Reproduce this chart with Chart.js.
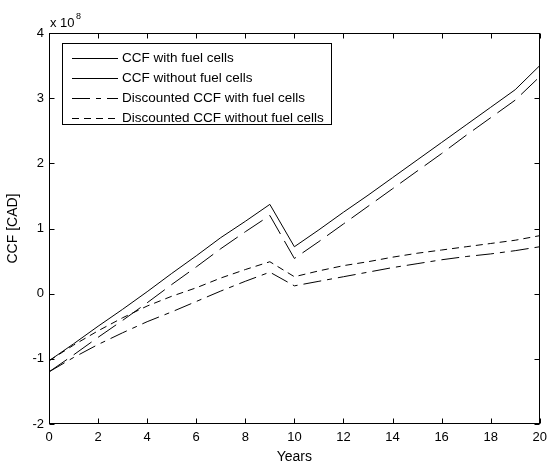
<!DOCTYPE html>
<html>
<head>
<meta charset="utf-8">
<script src="https://cdn.jsdelivr.net/npm/chart.js@4/dist/chart.umd.min.js"></script>
<style>
  html, body { margin: 0; padding: 0; background: #fff; }
  #wrap { width: 553px; height: 466px; }
</style>
</head>
<body>
<div id="wrap"><canvas id="c" width="553" height="466"></canvas></div>
<script>
// ---- data (values in units of 1e8 CAD) ----
const years = [0,1,2,3,4,5,6,7,8,9,10,11,12,13,14,15,16,17,18,19,20];
const ccfWith        = [-1.03,-0.77,-0.50,-0.24,0.03,0.31,0.58,0.86,1.11,1.37,0.72,0.98,1.25,1.51,1.78,2.05,2.32,2.59,2.86,3.13,3.50];
const ccfWithout     = [-1.20,-0.94,-0.67,-0.41,-0.14,0.14,0.41,0.69,0.95,1.20,0.54,0.80,1.07,1.34,1.61,1.88,2.15,2.43,2.70,2.97,3.33];
const discWith       = [-1.20,-0.98,-0.78,-0.60,-0.43,-0.28,-0.12,0.04,0.19,0.33,0.12,0.19,0.26,0.33,0.40,0.46,0.52,0.57,0.61,0.66,0.72];
const discWithout    = [-1.03,-0.79,-0.57,-0.37,-0.19,-0.04,0.09,0.24,0.37,0.49,0.26,0.35,0.43,0.49,0.56,0.62,0.67,0.72,0.77,0.82,0.89];
const seriesLabels = ['CCF with fuel cells','CCF without fuel cells','Discounted CCF with fuel cells','Discounted CCF without fuel cells'];
const xTicks = [0,2,4,6,8,10,12,14,16,18,20];
const yTicks = [-2,-1,0,1,2,3,4];
const SCALE = 1e8;

const pts = arr => years.map((x, i) => ({ x: x, y: arr[i] * SCALE }));

const plotDash   = [[], [22, 8], [18, 6, 5, 6], [7, 5]];
const legendDash = [[], [], [18, 6, 5, 6], [7, 5]];
const allSeries = [ccfWith, ccfWithout, discWith, discWithout];

const datasets = allSeries.map((s, i) => ({
  label: seriesLabels[i],
  data: pts(s),
  borderColor: '#000',
  borderWidth: 1,
  borderDash: plotDash[i],
  pointRadius: 0,
  fill: false,
  tension: 0
}));

const FONT = 'Liberation Sans, Arial, Helvetica, sans-serif';

const decor = {
  id: 'decor',
  afterDatasetsDraw(chart) {
    const ctx = chart.ctx;
    const a = chart.chartArea;
    const xs = chart.scales.x, ys = chart.scales.y;
    const L = Math.round(a.left) + 0.5, R = Math.round(a.right) - 0.5;
    const T = Math.round(a.top) + 0.5, B = Math.round(a.bottom) - 0.5;
    ctx.save();
    ctx.strokeStyle = '#000';
    ctx.lineWidth = 1;
    ctx.setLineDash([]);
    ctx.strokeRect(L, T, R - L, B - T);
    const tl = 5;
    ctx.beginPath();
    xTicks.forEach(v => {
      const px = Math.round(xs.getPixelForValue(v)) + 0.5;
      ctx.moveTo(px, B); ctx.lineTo(px, B - tl);
      ctx.moveTo(px, T); ctx.lineTo(px, T + tl);
    });
    yTicks.forEach(v => {
      const py = Math.round(ys.getPixelForValue(v * SCALE)) + 0.5;
      ctx.moveTo(L, py); ctx.lineTo(L + tl, py);
      ctx.moveTo(R, py); ctx.lineTo(R - tl, py);
    });
    ctx.stroke();

    // exponent label
    ctx.fillStyle = '#000';
    ctx.textAlign = 'left';
    ctx.textBaseline = 'alphabetic';
    ctx.font = '13px ' + FONT;
    ctx.fillText('x 10', 50, 27);
    ctx.font = '9px ' + FONT;
    ctx.fillText('8', 76, 19);

    // legend
    const bx = 62.5, by = 43.5, bw = 269, bh = 81;
    ctx.fillStyle = '#fff';
    ctx.fillRect(bx, by, bw, bh);
    ctx.strokeRect(bx, by, bw, bh);
    ctx.font = '13.5px ' + FONT;
    ctx.textBaseline = 'middle';
    chart.data.datasets.forEach((d, i) => {
      const y = Math.round(by + 14 + i * 20) + 0.5;
      ctx.setLineDash(legendDash[i]);
      ctx.beginPath();
      ctx.moveTo(72, y); ctx.lineTo(118, y);
      ctx.stroke();
      ctx.setLineDash([]);
      ctx.fillStyle = '#000';
      ctx.fillText(d.label, 122, y);
    });
    ctx.restore();
  }
};

new Chart(document.getElementById('c'), {
  type: 'line',
  data: { datasets },
  options: {
    responsive: false,
    animation: false,
    events: [],
    layout: { padding: { left: 0, right: 9, top: 33, bottom: 0 } },
    plugins: { legend: { display: false }, tooltip: { enabled: false } },
    scales: {
      x: {
        type: 'linear', min: 0, max: 20,
        afterBuildTicks: s => { s.ticks = xTicks.map(v => ({ value: v })); },
        afterFit: s => { s.height = 42; },
        grid: { display: false, drawTicks: false },
        border: { display: false },
        ticks: { color: '#000', padding: 6, font: { family: FONT, size: 13 }, maxRotation: 0, autoSkip: false },
        title: { display: true, text: 'Years', color: '#000', font: { family: FONT, size: 14 }, padding: { top: 0, bottom: 0 } }
      },
      y: {
        type: 'linear', min: -2 * SCALE, max: 4 * SCALE,
        afterBuildTicks: s => { s.ticks = yTicks.map(v => ({ value: v * SCALE })); },
        afterFit: s => { s.width = 49; },
        grid: { display: false, drawTicks: false },
        border: { display: false },
        ticks: { color: '#000', padding: 5, font: { family: FONT, size: 13 }, callback: v => String(Math.round(v / SCALE)) },
        title: { display: true, text: 'CCF [CAD]', color: '#000', font: { family: FONT, size: 14 }, padding: { top: 5, bottom: 0 } }
      }
    }
  },
  plugins: [decor]
});
</script>
</body>
</html>
